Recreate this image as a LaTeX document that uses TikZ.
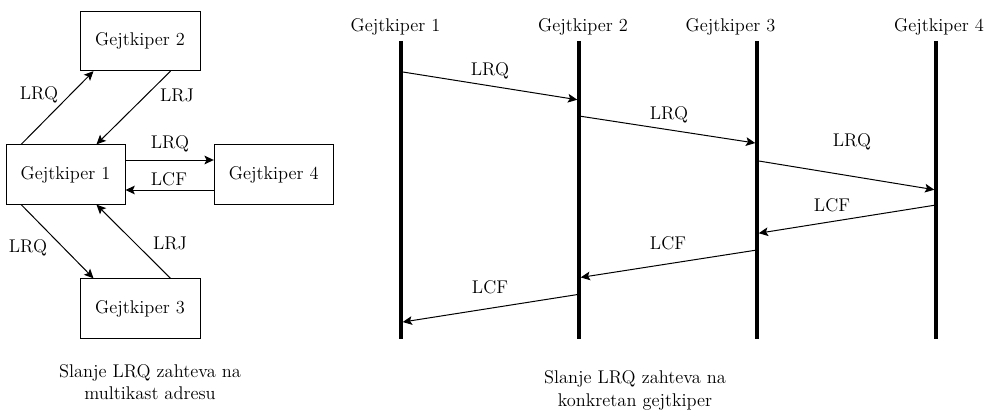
\documentclass[tikz,border=0pt]{standalone}
\usetikzlibrary{arrows.meta,calc}
\begin{document}
\begin{tikzpicture}[x=0.75pt,y=-0.75pt,
  every node/.style={font=\fontsize{13.8}{16.75}\selectfont, inner sep=0pt},
  gk/.style={draw, line width=0.75pt, minimum width=90pt, minimum height=44.5pt},
  msg/.style={line width=0.75pt, -{Stealth[length=7pt,width=6.5pt,inset=1.5pt]}},
  seqmsg/.style={msg, shorten >=1.3pt, shorten <=1pt},
  life/.style={line width=2.6pt},
  lbl/.style={},
  caption/.style={align=center}]
\useasboundingbox (0,0) rectangle (985,410);

% ---------- multicast LRQ ----------
\node[gk, minimum width=89.25pt] (g1) at (65.5,174.5) {Gejtkiper 1};
\node[gk] (g2) at (140,41) {Gejtkiper 2};
\node[gk, minimum width=89.25pt] (g4) at (273.8,174.5) {Gejtkiper 4};
\node[gk] (g3) at (140,308.5) {Gejtkiper 3};

\draw[msg] ($(g1.north west)+(15.7,0)$) -- ($(g2.south west)+(14,0)$);
\draw[msg] ($(g2.south east)+(-30,0)$) -- ($(g1.north east)+(-29,0)$);
\draw[msg] ($(g1.east)+(0,-14.5)$) -- ($(g4.west)+(0,-14.5)$);
\draw[msg] ($(g4.west)+(0,15.5)$) -- ($(g1.east)+(0,15.5)$);
\draw[msg] ($(g1.south west)+(15.7,0)$) -- ($(g3.north west)+(14,0)$);
\draw[msg] ($(g3.north east)+(-30,0)$) -- ($(g1.south east)+(-29,0)$);

\node[lbl] (l12) at (39,95) {LRQ};
\node[lbl] (l21) at (177,95) {LRJ};
\node[lbl] (l14) at (170,144) {LRQ};
\node[lbl] (l41) at (169,179) {LCF};
\node[lbl] (l13) at (28,248) {LRQ};
\node[lbl] (l31) at (170,243) {LRJ};

\node[caption] (capl) at (150,382) {Slanje LRQ zahteva na\\multikast adresu};

% ---------- LRQ to a specific gatekeeper ----------
\node (h1) at (395.5,27) {Gejtkiper 1};
\node (h2) at (583,27) {Gejtkiper 2};
\node (h3) at (730.5,27) {Gejtkiper 3};
\node (h4) at (939,27) {Gejtkiper 4};

\foreach \i/\x in {1/401,2/579,3/757,4/936}{
  \coordinate (t\i) at (\x,41);
  \coordinate (b\i) at (\x,339);
  \draw[life] (t\i) -- (b\i);
}

\coordinate (m1s) at (401,71.7);  \coordinate (m1e) at (579,100);
\coordinate (m2s) at (579,116);   \coordinate (m2e) at (757,143.3);
\coordinate (m3s) at (757,160.7); \coordinate (m3e) at (936,190);
\coordinate (m4s) at (936,205);   \coordinate (m4e) at (757,233.5);
\coordinate (m5s) at (757,250);   \coordinate (m5e) at (579,277.7);
\coordinate (m6s) at (579,294.3); \coordinate (m6e) at (401,322.3);

\foreach \k in {1,...,6}{
  \draw[seqmsg] (m\k s) -- (m\k e);
}

\node[lbl] (q1) at (490,71) {LRQ};
\node[lbl] (q2) at (669,115) {LRQ};
\node[lbl] (q3) at (852,142) {LRQ};
\node[lbl] (c1) at (832,205) {LCF};
\node[lbl] (c2) at (668,243) {LCF};
\node[lbl] (c3) at (490,287) {LCF};

\node[caption] (capr) at (635,390.5) {Slanje LRQ zahteva na\\konkretan gejtkiper};
\end{tikzpicture}
\end{document}
